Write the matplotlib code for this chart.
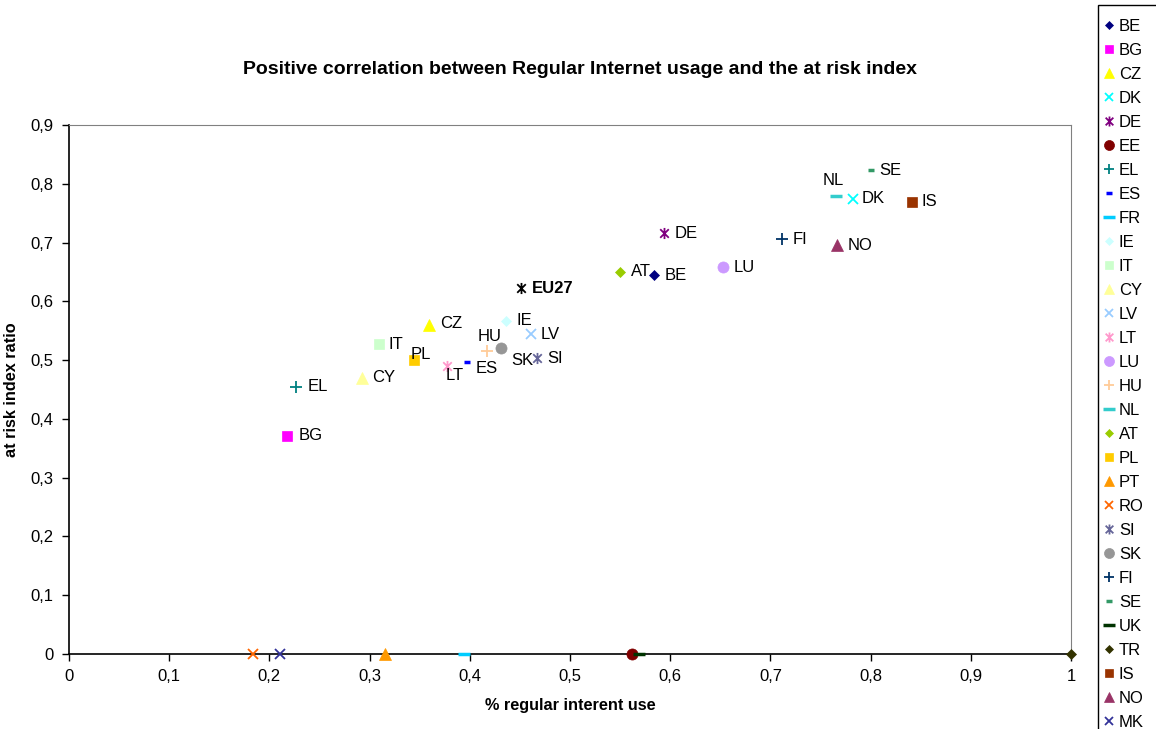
import matplotlib.pyplot as plt
from matplotlib.path import Path
from matplotlib.patches import Rectangle

plt.rcParams['font.family'] = ['Liberation Sans', 'DejaVu Sans']

countries = ['BE', 'BG', 'CZ', 'DK', 'DE', 'EE', 'EL', 'ES', 'FR', 'IE',
             'IT', 'CY', 'LV', 'LT', 'LU', 'HU', 'NL', 'AT', 'PL', 'PT',
             'RO', 'SI', 'SK', 'FI', 'SE', 'UK', 'TR', 'IS', 'NO', 'MK', 'EU27']
internet_use = [0.584, 0.218, 0.359, 0.782, 0.594, 0.562, 0.227, 0.397, 0.394, 0.436,
                0.309, 0.292, 0.461, 0.377, 0.653, 0.417, 0.765, 0.550, 0.344, 0.315,
                0.184, 0.467, 0.431, 0.712, 0.800, 0.569, 1.000, 0.841, 0.766, 0.211, 0.451]
risk_ratio = [0.644, 0.371, 0.560, 0.774, 0.716, 0.0, 0.455, 0.497, 0.0, 0.567,
              0.527, 0.470, 0.544, 0.490, 0.658, 0.516, 0.780, 0.650, 0.500, 0.0,
              0.0, 0.503, 0.520, 0.706, 0.823, 0.0, 0.0, 0.769, 0.695, 0.0, 0.623]

# asterisk marker like Excel's "star" (x plus vertical bar)
star = Path([(-1, -1), (1, 1), (-1, 1), (1, -1), (0, -1.3), (0, 1.3)],
            [Path.MOVETO, Path.LINETO, Path.MOVETO, Path.LINETO, Path.MOVETO, Path.LINETO])

# marker, color, size
styles = {
    'BE': ('D', '#000080', 5), 'BG': ('s', '#FF00FF', 7), 'CZ': ('^', '#FFFF00', 8),
    'DK': ('x', '#00FFFF', 7), 'DE': (star, '#800080', 8), 'EE': ('o', '#800000', 8),
    'EL': ('+', '#008080', 8), 'ES': ('_', '#0000FF', 5), 'FR': ('_', '#00CCFF', 9),
    'IE': ('D', '#CCFFFF', 5), 'IT': ('s', '#CCFFCC', 7), 'CY': ('^', '#FFFF99', 8),
    'LV': ('x', '#99CCFF', 7), 'LT': (star, '#FF99CC', 8), 'LU': ('o', '#CC99FF', 8),
    'HU': ('+', '#FFCC99', 8), 'NL': ('_', '#33CCCC', 9), 'AT': ('D', '#99CC00', 5),
    'PL': ('s', '#FFCC00', 7), 'PT': ('^', '#FF9900', 8), 'RO': ('x', '#FF6600', 7),
    'SI': (star, '#666699', 8), 'SK': ('o', '#969696', 8), 'FI': ('+', '#003366', 8),
    'SE': ('_', '#339966', 5), 'UK': ('_', '#003300', 9), 'TR': ('D', '#333300', 5),
    'IS': ('s', '#993300', 7), 'NO': ('^', '#993366', 8), 'MK': ('x', '#333399', 7),
    'EU27': (star, '#000000', 8),
}

# label placement (offset in pixels, horizontal alignment)
label_pos = {
    'SE': (9, 0, 'left'), 'NL': (-2, 15, 'center'), 'DK': (9, 1, 'left'),
    'IS': (10, 0, 'left'), 'DE': (10, 0, 'left'), 'FI': (10, 0, 'left'),
    'NO': (11, 0, 'left'), 'AT': (11, 0, 'left'), 'BE': (10, 0, 'left'),
    'LU': (10, 0, 'left'), 'EU27': (11, -1, 'left'), 'IE': (11, 0, 'left'),
    'LV': (10, 0, 'left'), 'CZ': (11, 1, 'left'), 'IT': (10, 0, 'left'),
    'HU': (3, 14, 'center'), 'PL': (7, 6, 'center'), 'SK': (10, -12, 'left'),
    'SI': (10, 0, 'left'), 'ES': (9, -7, 'left'), 'LT': (8, -10, 'center'),
    'CY': (11, 0, 'left'), 'EL': (11, 0, 'left'), 'BG': (11, 0, 'left'),
}

fs = 12
W, H = 1156, 729
fig = plt.figure(figsize=(W / 100, H / 100), dpi=100)
ax = fig.add_axes([69 / W, 1 - 654 / H, 1002 / W, 529 / H])

for c, x, y in zip(countries, internet_use, risk_ratio):
    m, col, ms = styles[c]
    unfilled = m in ('x', '+', '_') or m is star
    mew = 2.5 if m == '_' else 1.3
    # EU27 sits below the visible part of the legend in the original
    ax.plot([x], [y], linestyle='none', marker=m, markersize=ms,
            markerfacecolor='none' if unfilled else col, markeredgecolor=col,
            markeredgewidth=mew if unfilled else 0.5,
            label='_' + c if c == 'EU27' else c, clip_on=False, zorder=3)
    if c in label_pos:
        dx, dy, ha = label_pos[c]
        ax.annotate(c, (x, y), xytext=(dx, dy), textcoords='offset pixels',
                    ha=ha, va='center', fontsize=fs,
                    fontweight='bold' if c == 'EU27' else 'normal')

ax.set_xlim(0, 1)
ax.set_ylim(0, 0.9)
xt = [i / 10 for i in range(11)]
yt = [i / 10 for i in range(10)]
ax.set_xticks(xt)
ax.set_yticks(yt)
ax.set_xticklabels([('%g' % v).replace('.', ',') for v in xt], fontsize=fs)
ax.set_yticklabels([('%g' % v).replace('.', ',') for v in yt], fontsize=fs)
ax.tick_params(direction='out', length=5, width=1, pad=6)
for s in ('top', 'right'):
    ax.spines[s].set_color('#808080')
for s in ('left', 'bottom'):
    ax.spines[s].set_color('black')
    ax.spines[s].set_linewidth(1.2)

ax.set_xlabel('% regular interent use', fontsize=11.7, fontweight='bold', labelpad=10)
ax.set_ylabel('at risk index ratio', fontsize=11.7, fontweight='bold', labelpad=8)
fig.text(580 / W, 1 - 70 / H, 'Positive correlation between Regular Internet usage and the at risk index',
         ha='center', va='center', fontsize=14, fontweight='bold')

# legend runs off the bottom of the image, like the original
fig.add_artist(Rectangle((1098 / W, -0.05), 0.1, 1.05 - 5 / H, transform=fig.transFigure,
                         fill=False, edgecolor='black', linewidth=1.0))
leg = fig.legend(loc='upper left', bbox_to_anchor=(1104 / W, 1 - 19 / H),
                 fontsize=fs, frameon=False,
                 handlelength=0.6, handletextpad=0.3, borderpad=0,
                 labelspacing=0.54, borderaxespad=0, markerscale=0.9)

fig.savefig('out.png', dpi=100)
